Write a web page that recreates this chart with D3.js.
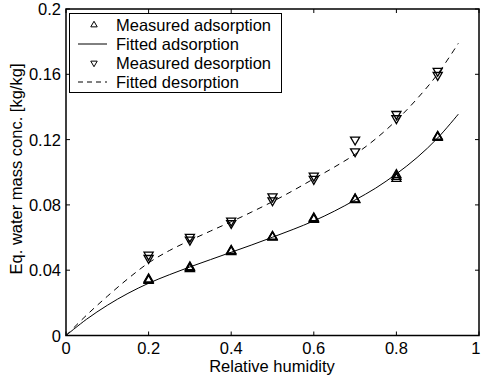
<!DOCTYPE html>
<html><head><meta charset="utf-8">
<script src="https://cdn.jsdelivr.net/npm/d3@7"></script>
<style>body{margin:0;background:#fff}svg{display:block}text{font-family:"Liberation Sans",Arial,sans-serif;fill:#000}</style>
</head><body><svg id="c" width="481" height="378"></svg>
<script>
// Data
const rhMeasured = [0.2, 0.3, 0.4, 0.5, 0.6, 0.7, 0.8, 0.9];
const adsorptionA = [0.0345, 0.0419, 0.0520, 0.0606, 0.0719, 0.0835, 0.0984, 0.1219];
const adsorptionB = [0.0335, 0.0407, 0.0512, 0.0600, 0.0709, 0.0830, 0.0960, 0.1212];
const desorptionA = [0.0494, 0.0603, 0.0703, 0.0851, 0.0978, 0.1199, 0.1356, 0.1620];
const desorptionB = [0.0474, 0.0586, 0.0688, 0.0827, 0.0958, 0.1127, 0.1330, 0.1595];
const rhFit = [0, 0.05, 0.1, 0.15, 0.2, 0.25, 0.3, 0.35, 0.4, 0.45, 0.5, 0.55, 0.6, 0.65, 0.7, 0.75, 0.8, 0.85, 0.9, 0.95];
const adsFit = [0, 0.0100, 0.0185, 0.0258, 0.0320, 0.0372, 0.0420, 0.0465, 0.0510, 0.0555, 0.0602, 0.0650, 0.0702, 0.0762, 0.0830, 0.0903, 0.0990, 0.1090, 0.1210, 0.1356];
const desFit = [0, 0.0125, 0.0240, 0.0348, 0.0445, 0.0520, 0.0582, 0.0640, 0.0697, 0.0757, 0.0820, 0.0888, 0.0960, 0.1032, 0.1110, 0.1205, 0.1318, 0.1450, 0.1602, 0.1790];
const xTicks = [0, 0.2, 0.4, 0.6, 0.8, 1];
const yTicks = [0, 0.04, 0.08, 0.12, 0.16, 0.2];
const legendLabels = ["Measured adsorption", "Fitted adsorption", "Measured desorption", "Fitted desorption"];

const svg = d3.select("#c");
const L = 66, R = 479, T = 9, B = 335.5;
const x = d3.scaleLinear().domain([0, 1]).range([L, R]);
const y = d3.scaleLinear().domain([0, 0.2]).range([B, T]);
const fmt = d => d === 0 ? "0" : d === 1 ? "1" : String(+d.toFixed(2));
const FS = 16.5;

const tl = 4;
const g = svg.append("g");
xTicks.forEach(t => {
  g.append("line").attr("x1", x(t)).attr("x2", x(t)).attr("y1", B).attr("y2", B - tl).attr("stroke", "#000");
  g.append("line").attr("x1", x(t)).attr("x2", x(t)).attr("y1", T).attr("y2", T + tl).attr("stroke", "#000");
  g.append("text").attr("x", t === 1 ? 480.5 : x(t)).attr("y", 354)
    .attr("text-anchor", t === 1 ? "end" : "middle").attr("font-size", FS).text(fmt(t));
});
yTicks.forEach(t => {
  g.append("line").attr("x1", L).attr("x2", L + tl).attr("y1", y(t)).attr("y2", y(t)).attr("stroke", "#000");
  g.append("line").attr("x1", R).attr("x2", R - tl).attr("y1", y(t)).attr("y2", y(t)).attr("stroke", "#000");
  g.append("text").attr("x", 61).attr("y", y(t) + 6).attr("text-anchor", "end").attr("font-size", FS).text(fmt(t));
});

// curves
const line = d3.line().x((d, i) => x(rhFit[i])).y(d => y(d)).curve(d3.curveCatmullRom);
svg.append("path").attr("d", line(adsFit)).attr("fill", "none").attr("stroke", "#000").attr("stroke-width", 1);
svg.append("path").attr("d", line(desFit)).attr("fill", "none").attr("stroke", "#000").attr("stroke-width", 1).attr("stroke-dasharray", "6,5");

const up = d3.symbol().type(d3.symbolTriangle).size(36);
function tri(cx, cy, down) {
  svg.append("path").attr("d", up()).attr("transform", `translate(${cx},${cy})${down ? " rotate(180)" : ""}`)
    .attr("fill", "none").attr("stroke", "#000").attr("stroke-width", 1.3);
}
rhMeasured.forEach((r, i) => {
  tri(x(r), y(adsorptionA[i]), false);
  tri(x(r), y(adsorptionB[i]), false);
  tri(x(r), y((adsorptionA[i] + adsorptionB[i]) / 2), false);
  tri(x(r), y(desorptionA[i]), true);
  tri(x(r), y(desorptionB[i]), true);
});

// box
svg.append("rect").attr("x", L).attr("y", T).attr("width", R - L).attr("height", B - T)
  .attr("fill", "none").attr("stroke", "#000").attr("stroke-width", 1.5);

// legend
const lg = svg.append("g");
lg.append("rect").attr("x", 69.5).attr("y", 13.5).attr("width", 212).attr("height", 79).attr("fill", "#fff").attr("stroke", "#000").attr("stroke-width", 1);
const rows = [25, 44, 63, 82];
legendLabels.forEach((lab, i) => {
  lg.append("text").attr("x", 116).attr("y", rows[i] + 6).attr("font-size", FS).text(lab);
});
lg.append("path").attr("d", d3.symbol().type(d3.symbolTriangle).size(18)()).attr("transform", `translate(94,${rows[0]})`).attr("fill", "none").attr("stroke", "#000");
lg.append("path").attr("d", d3.symbol().type(d3.symbolTriangle).size(18)()).attr("transform", `translate(94,${rows[2]}) rotate(180)`).attr("fill", "none").attr("stroke", "#000");
lg.append("line").attr("x1", 78).attr("x2", 107).attr("y1", rows[1]).attr("y2", rows[1]).attr("stroke", "#000");
lg.append("line").attr("x1", 78).attr("x2", 107).attr("y1", rows[3]).attr("y2", rows[3]).attr("stroke", "#000").attr("stroke-dasharray", "5,4");

// axis titles
svg.append("text").attr("x", 272).attr("y", 372).attr("text-anchor", "middle").attr("font-size", FS).text("Relative humidity");
svg.append("text").attr("transform", `translate(22,169) rotate(-90)`).attr("text-anchor", "middle").attr("font-size", FS).text("Eq. water mass conc. [kg/kg]");
</script></body></html>
